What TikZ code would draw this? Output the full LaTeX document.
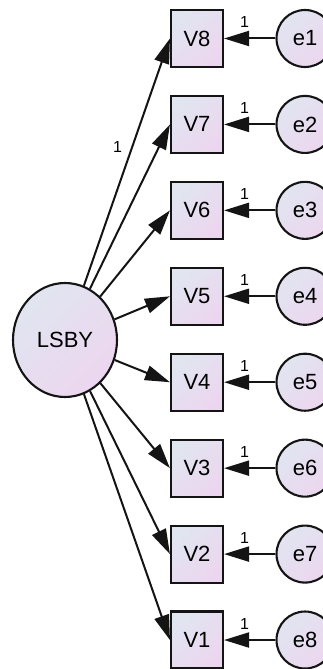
\documentclass[tikz,border=0pt]{standalone}
\usepackage{fontspec}
\setmainfont{Liberation Sans}
\usetikzlibrary{arrows.meta,shapes.geometric}
\definecolor{shA}{HTML}{E1E5F0}
\definecolor{shB}{HTML}{ECD6EF}
\definecolor{edge}{HTML}{141414}
\begin{document}
\begin{tikzpicture}[x=1pt,y=-1pt,
  obs/.style={draw=edge, line width=2.1pt, rectangle, minimum width=52pt, minimum height=57pt, inner sep=0pt,
    top color=shA, bottom color=shB, shading angle=45, font=\fontsize{22}{26}\selectfont},
  err/.style={draw=edge, line width=2.1pt, circle, minimum size=57pt, inner sep=0pt,
    top color=shA, bottom color=shB, shading angle=45, font=\fontsize{22}{26}\selectfont},
  lat/.style={draw=edge, line width=2.1pt, ellipse, minimum width=104pt, minimum height=114pt, inner sep=0pt,
    top color=shA, bottom color=shB, shading angle=45, font=\fontsize{22}{26}\selectfont},
  path/.style={draw=edge, line width=2pt, -{Triangle[length=25pt,width=15pt]}},
  wt/.style={font=\fontsize{16}{19}\selectfont, inner sep=0pt}
]
\useasboundingbox (0,0) rectangle (322,669);
\node[lat] (L) at (65,340) {LSBY};
\foreach \v/\e/\k in {8/1/0,7/2/1,6/3/2,5/4/3,4/5/4,3/6/5,2/7/6,1/8/7}{
  \node[obs] (V\v) at (197,{38.5+85.93*\k}) {V\v};
  \node[err] (e\e) at (305,{38.5+85.93*\k}) {e\e};
  \draw[path] (e\e) -- node[wt, pos=0.6, yshift=16.5pt] {1} (V\v);
}
\draw[path] (L) -- node[wt, pos=0.56, xshift=-14.5pt] {1} (V8.west);
\foreach \v in {7,6,5,4,3,2,1}{
  \draw[path] (L) -- (V\v.west);
}
\end{tikzpicture}
\end{document}
